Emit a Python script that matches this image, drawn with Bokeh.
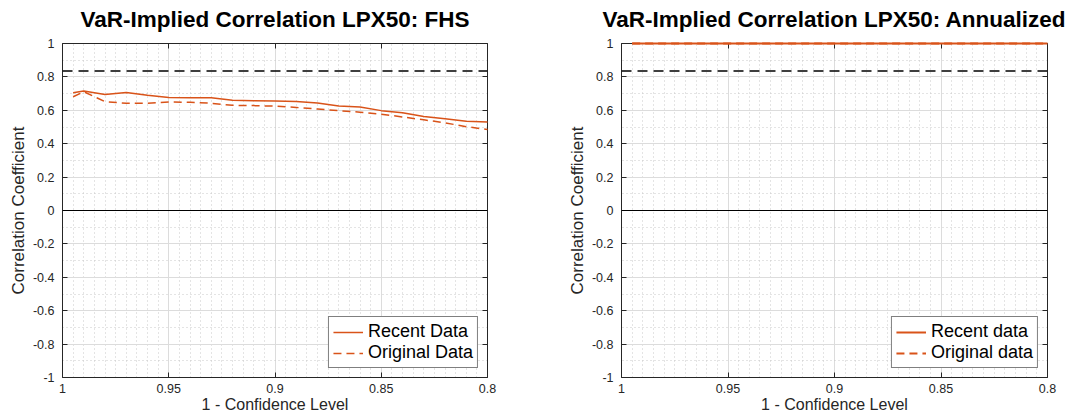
from bokeh.plotting import figure
from bokeh.models import (Range1d, LinearAxis, FixedTicker, Span, Legend, LegendItem, Grid,
                          CustomLabelingPolicy)
from bokeh.layouts import row
from bokeh.embed import file_html
from bokeh.resources import INLINE

# ---------------- data ----------------
conf = [0.995, 0.99, 0.98, 0.97, 0.96, 0.95, 0.94, 0.93, 0.92, 0.91, 0.90,
        0.89, 0.88, 0.87, 0.86, 0.85, 0.84, 0.83, 0.82, 0.81, 0.80]
fhs_recent = [0.705, 0.715, 0.695, 0.707, 0.690, 0.676, 0.675, 0.675, 0.660, 0.657, 0.655,
              0.652, 0.644, 0.626, 0.620, 0.598, 0.585, 0.563, 0.549, 0.535, 0.530]
fhs_original = [0.681, 0.711, 0.652, 0.642, 0.642, 0.650, 0.648, 0.642, 0.630, 0.628, 0.625,
                0.617, 0.608, 0.598, 0.589, 0.577, 0.560, 0.543, 0.525, 0.502, 0.485]
ann_recent = [1.0, 1.0, 1.0, 1.0, 1.0, 1.0, 1.0, 1.0, 1.0, 1.0, 1.0,
              1.0, 1.0, 1.0, 1.0, 1.0, 1.0, 1.0, 1.0, 1.0, 1.0]
ann_original = [1.0, 1.0, 1.0, 1.0, 1.0, 1.0, 1.0, 1.0, 1.0, 1.0, 1.0,
                1.0, 1.0, 1.0, 1.0, 1.0, 1.0, 1.0, 1.0, 1.0, 1.0]
threshold = 0.835

x_ticks = [1.0, 0.95, 0.9, 0.85, 0.8]
x_tick_labels = ["1", "0.95", "0.9", "0.85", "0.8"]
y_ticks = [-1.0, -0.8, -0.6, -0.4, -0.2, 0.0, 0.2, 0.4, 0.6, 0.8, 1.0]
y_tick_labels = ["-1", "-0.8", "-0.6", "-0.4", "-0.2", "0", "0.2", "0.4", "0.6", "0.8", "1"]

titles = ["VaR-Implied Correlation LPX50: FHS", "VaR-Implied Correlation LPX50: Annualized"]
legend_labels = [["Recent Data", "Original Data"], ["Recent data", "Original data"]]
x_label = "1 - Confidence Level"
y_label = "Correlation Coefficient"

# ---------------- style ----------------
ORANGE = "#D95319"
AX = "#262626"
FONT = "Liberation Sans"
x_minor = [round(0.8 + 0.005 * i, 3) for i in range(41)]
x_minor = [t for t in x_minor if all(abs(t - m) > 1e-9 for m in x_ticks)]
y_minor = [round(-1 + 0.1 * i, 2) for i in range(21)]
y_minor = [t for t in y_minor if all(abs(t - m) > 1e-9 for m in y_ticks)]


def ticker_x():
    return FixedTicker(ticks=x_ticks, minor_ticks=x_minor)


def ticker_y():
    return FixedTicker(ticks=y_ticks, minor_ticks=y_minor)


def style_axis(ax, show_labels, standoff=4):
    ax.axis_line_color = AX
    ax.axis_line_width = 1
    ax.major_tick_line_color = AX
    ax.major_tick_in = 5
    ax.major_tick_out = 0
    ax.minor_tick_line_color = None
    ax.major_label_text_font = FONT
    ax.major_label_text_color = AX
    if show_labels:
        ax.major_label_text_font_size = "12.5px"
        ax.major_label_standoff = standoff
    else:
        ax.major_label_text_font_size = "1px"
        ax.major_label_standoff = 0
        ax.major_label_policy = CustomLabelingPolicy(code="return []")


def make(idx, rec, orig, left_b, right_b, lw):
    p = figure(width=537, height=415, x_range=Range1d(1, 0.8), y_range=Range1d(-1, 1),
               output_backend="svg", toolbar_location=None,
               min_border_left=left_b, min_border_right=right_b,
               min_border_top=43, min_border_bottom=35,
               x_axis_type=None, y_axis_type=None)
    p.outline_line_color = None
    p.background_fill_color = "white"
    p.border_fill_color = "white"

    xb = LinearAxis(ticker=ticker_x(), axis_label=x_label)
    xb.major_label_overrides = {t: l for t, l in zip(x_ticks, x_tick_labels)}
    style_axis(xb, True, standoff=2)
    xb.axis_label_text_font = FONT
    xb.axis_label_text_font_size = "16px"
    xb.axis_label_text_font_style = "normal"
    xb.axis_label_text_color = AX
    xb.axis_label_standoff = 0
    p.add_layout(xb, "below")

    yl = LinearAxis(ticker=ticker_y(), axis_label=y_label)
    yl.major_label_overrides = {t: l for t, l in zip(y_ticks, y_tick_labels)}
    style_axis(yl, True)
    yl.axis_label_text_font = FONT
    yl.axis_label_text_font_size = "17px"
    yl.axis_label_text_font_style = "normal"
    yl.axis_label_text_color = AX
    yl.axis_label_standoff = 2
    p.add_layout(yl, "left")

    xt = LinearAxis(ticker=ticker_x())
    style_axis(xt, False)
    p.add_layout(xt, "above")
    yr = LinearAxis(ticker=ticker_y())
    style_axis(yr, False)
    p.add_layout(yr, "right")

    gx = Grid(dimension=0, ticker=xb.ticker)
    gy = Grid(dimension=1, ticker=yl.ticker)
    for g in (gx, gy):
        g.grid_line_color = "#dcdcdc"
        g.grid_line_width = 1
        g.minor_grid_line_color = "#c8c8c8"
        g.minor_grid_line_dash = "1 3"
        g.minor_grid_line_width = 1
        p.add_layout(g)

    p.title.text = titles[idx]
    p.title.text_font = FONT
    p.title.text_font_size = "22.5px"
    p.title.text_font_style = "bold"
    p.title.text_color = "black"
    p.title.align = "center"
    p.title.standoff = 7

    p.add_layout(Span(location=0, dimension="width", line_color="black", line_width=1.2))
    p.add_layout(Span(location=threshold, dimension="width", line_color="black",
                      line_width=1.5, line_dash="10 6"))

    r_orig = p.line(conf, orig, line_color=ORANGE, line_width=lw, line_dash="8 5", level="overlay")
    r_rec = p.line(conf, rec, line_color=ORANGE, line_width=lw, level="overlay")

    leg = Legend(items=[LegendItem(label=legend_labels[idx][0], renderers=[r_rec]),
                        LegendItem(label=legend_labels[idx][1], renderers=[r_orig])],
                 location="bottom_right")
    leg.border_line_color = "black"
    leg.border_line_width = 1
    leg.background_fill_color = "white"
    leg.background_fill_alpha = 1
    leg.label_text_font = FONT
    leg.label_text_font_size = "18px"
    leg.label_text_line_height = 1.05
    leg.label_text_color = "black"
    leg.glyph_width = 30
    leg.glyph_height = 18
    leg.label_height = 18
    leg.label_standoff = 5
    leg.padding = 4
    leg.spacing = 0
    leg.margin = 9
    p.add_layout(leg)
    return p


p1 = make(0, fhs_recent, fhs_original, 62, 50, 1.5)
p2 = make(1, ann_recent, ann_original, 84, 27, 2)
layout = row(p1, p2)

open("out.html", "w").write(file_html(layout, INLINE))
